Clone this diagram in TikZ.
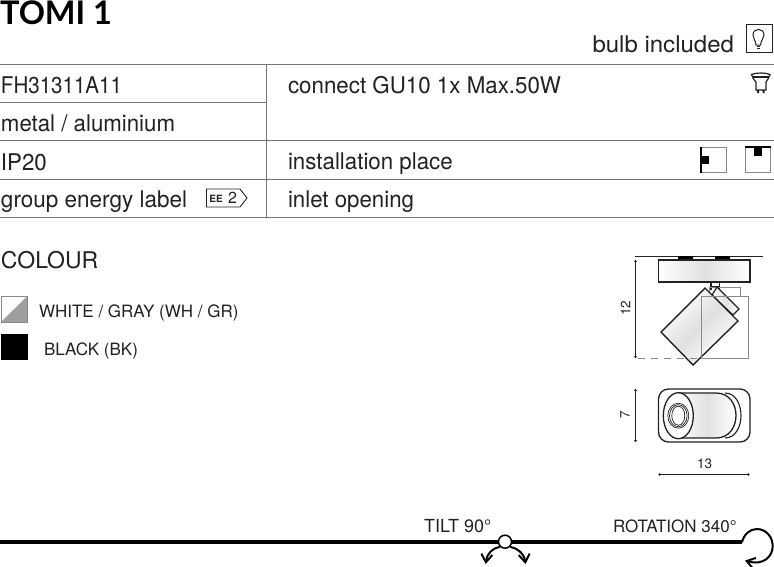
\documentclass[tikz,border=0pt]{standalone}
\usepackage{fontspec}
\usepackage{graphicx}
\setmainfont{TeX Gyre Heros}
\newfontfamily\titlefont{Lato}
\usetikzlibrary{arrows.meta,calc}
\definecolor{ink}{HTML}{222222}
\definecolor{rulec}{HTML}{777777}
\definecolor{outl}{HTML}{8A8A8A}
\newcommand{\squeeze}[2]{\scalebox{#1}[1]{#2}}
\tikzset{
  txt/.style={anchor=base west,inner sep=0pt,outer sep=0pt,text=ink,font=\fontsize{23}{26}\selectfont},
  small/.style={anchor=base west,inner sep=0pt,outer sep=0pt,text=ink,font=\fontsize{17}{19}\selectfont},
  dimtxt/.style={inner sep=0pt,text=ink,font=\fontsize{13.5}{15}\selectfont},
  rule/.style={draw=rulec,line width=1pt},
  icon/.style={draw=ink,line width=0.9pt},
  gbox/.style={draw=outl,line width=1pt},
  prod/.style={draw=ink,line width=1.4pt,shading=axis,left color=white,right color=white,middle color=black!12},
  dimline/.style={draw=ink,line width=0.9pt,{Circle[length=2.5pt]}-{Circle[length=2.5pt]}},
  thick bar/.style={draw=black,line width=4pt},
  curve/.style={draw=black,line width=2pt},
  barb/.style={-{Straight Barb[length=8pt,width=11pt]}}
}
\begin{document}
\begin{tikzpicture}[x=1pt,y=-1pt]
\useasboundingbox (0,0) rectangle (774,566);
\fill[white] (0,0) rectangle (774,566);
% title
\node[txt,text=black,font=\titlefont\bfseries\fontsize{32.5}{35}\selectfont] (title) at (0,24.6) {TOMI 1};
% table
\foreach \yy in {64,140,179,217} \draw[rule] (0,\yy) -- (774,\yy);
\draw[rule] (0,102) -- (266,102);
\draw[rule] (266,64) -- (266,217);
% table text
\node[txt] (bulb) at (592.5,52) {\squeeze{1.044}{bulb included}};
\node[txt] (code) at (1,93) {\squeeze{0.893}{FH31311A11}};
\node[txt] (metal) at (1,131) {\squeeze{0.967}{metal / aluminium}};
\node[txt] (ip) at (1,170) {\squeeze{0.97}{IP20}};
\node[txt] (group) at (1,207) {\squeeze{0.978}{group energy label}};
\node[txt] (connect) at (288,93) {\squeeze{0.971}{connect GU10 1x Max.50W}};
\node[txt] (install) at (288,169) {\squeeze{0.97}{installation place}};
\node[txt] (inlet) at (288,207) {\squeeze{0.968}{inlet opening}};
% bulb icon
\draw[icon] (746,24.5) rectangle (772.5,52);
\draw[icon,line width=1pt] (756,45) .. controls (755.5,40) and (753,38.5) .. (753,35) .. controls (753,27.5) and (764,27.5) .. (764,35) .. controls (764,38.5) and (761,40) .. (760.5,45) -- cycle;
\draw[icon,line width=1pt] (756.5,46.5) -- (760,46.5) (757,48.5) -- (759.5,48.5);
% GU10 icon
\draw[icon,line width=1.2pt] (751.5,74.5) .. controls (756,72.5) and (766,72.5) .. (770,74.5) -- (768,79) -- (766,82) -- (766,90) -- (756,90) -- (756,82) -- (753.5,79) -- cycle;
\draw[icon,line width=1.2pt] (753,77) -- (768.5,77);
\fill[ink] (757,90) rectangle (759,93) (762.5,90) rectangle (764.5,93);
% install icons
\draw[gbox] (701,147.5) rectangle (726,172.5);
\draw[black,line width=2pt] (701,147) -- (701,173);
\fill[black] (701,156) rectangle (709,164);
\draw[gbox] (745.5,147.5) rectangle (770.5,172.5);
\draw[black,line width=2pt] (745,147) -- (771,147);
\fill[black] (754,147) rectangle (762,155.5);
% energy label
\draw[draw=ink,line width=0.9pt] (206.5,189) -- (240,189) -- (247,198) -- (240,207) -- (206.5,207) -- cycle;
\node[inner sep=0pt,text=ink,font=\bfseries\fontsize{10}{10}\selectfont] (ee) at (216,199) {EE};
\node[inner sep=0pt,text=ink,font=\fontsize{16}{16}\selectfont] (two) at (232.5,197.5) {2};
% colour
\node[txt] (colour) at (1,268) {COLOUR};
\fill[white] (1,296) rectangle (27.5,322);
\fill[black!38] (27.5,296) -- (27.5,322) -- (1,322) -- cycle;
\draw[gbox] (1,296) rectangle (27.5,322);
\fill[black] (1,334) rectangle (27.5,360);
\node[small] (wh) at (39,317) {WHITE / GRAY (WH / GR)};
\node[small] (bk) at (44,355) {BLACK (BK)};
% side view
\draw[draw=ink,line width=0.8pt] (635,256.7) -- (763,256.7);
\fill[black] (678,256) rectangle (693,259.5) (715,256) rectangle (730,259.5);
\draw[prod] (658.5,260) rectangle (750,282);
\draw[icon,line width=1.2pt] (711,282) -- (711,290) (719.5,282) -- (719.5,290) (711,286.5) -- (719.5,286.5);
\draw[gbox] (709,287) rectangle (740,296);
\draw[prod,line width=1.2pt] (717,287) -- (739,309) -- (733,315) -- (712,295) -- cycle;
\draw[prod,shading angle=45] (705,288) -- (738,321) -- (693,365) -- (661,332) -- cycle;
\draw[gbox] (701,296) rectangle (748,358);
\draw[dimline] (635.5,260) -- (635.5,358);
\draw[draw=outl,line width=1pt,dash pattern=on 7pt off 6pt] (638,358) -- (713,358);
\node[dimtxt,rotate=90] (d12) at (625.5,308) {12};
% top view
\draw[draw=ink,line width=1.3pt,rounded corners=10pt] (658.5,389) rectangle (750,442);
\draw[draw=ink,line width=1.1pt] (725,393) .. controls (736,393) and (741,405) .. (741,415.5) .. controls (741,426) and (736,438) .. (725,438);
\draw[prod,line width=1.3pt] (678,393) -- (716,393) .. controls (730,393) and (736,405) .. (736,415.5) .. controls (736,426) and (730,438) .. (716,438) -- (678,438) -- cycle;
\draw[icon,line width=1.3pt,fill=white] (678.3,415.7) ellipse [x radius=15,y radius=23];
\draw[icon,line width=0.7pt] (678.3,415.7) ellipse [x radius=10.5,y radius=12.5];
\draw[icon,line width=0.7pt] (678.3,415.7) ellipse [x radius=8.8,y radius=11];
\draw[icon,line width=0.7pt] (678.3,415.7) ellipse [x radius=6.5,y radius=9.5];
\draw[dimline] (635.5,389) -- (635.5,442);
\node[dimtxt,rotate=90] (d7) at (625,415) {7};
\draw[dimline] (658.5,474.5) -- (749.5,474.5);
\node[dimtxt] (d13) at (704.5,464) {13};
% bottom bar
\node[small,font=\fontsize{18}{20}\selectfont] (tilt) at (424,532) {TILT 90°};
\node[small] (rot) at (613,532) {ROTATION 340°};
\draw[thick bar] (0,542.3) -- (742,542.3);
\node[circle,draw=black,line width=1.5pt,fill=white,minimum size=13pt,inner sep=0pt] (pivot) at (505,541.7) {};
\coordinate (tiltL) at (485.7,564);
\coordinate (tiltR) at (525.5,564);
\draw[curve,barb] (pivot.south west) .. controls (493,548) and (487,553) .. (tiltL);
\draw[curve,barb] (pivot.south east) .. controls (517,548) and (524,553) .. (tiltR);
\coordinate (rotS) at (742,542.3);
\coordinate (rotE) at (745,560.5);
\draw[curve,barb] (rotS) .. controls (744,534) and (750,529) .. (757,529) .. controls (766,529) and (772.7,537) .. (772.7,546) .. controls (772.7,556) and (764,566) .. (rotE);
\end{tikzpicture}
\end{document}
